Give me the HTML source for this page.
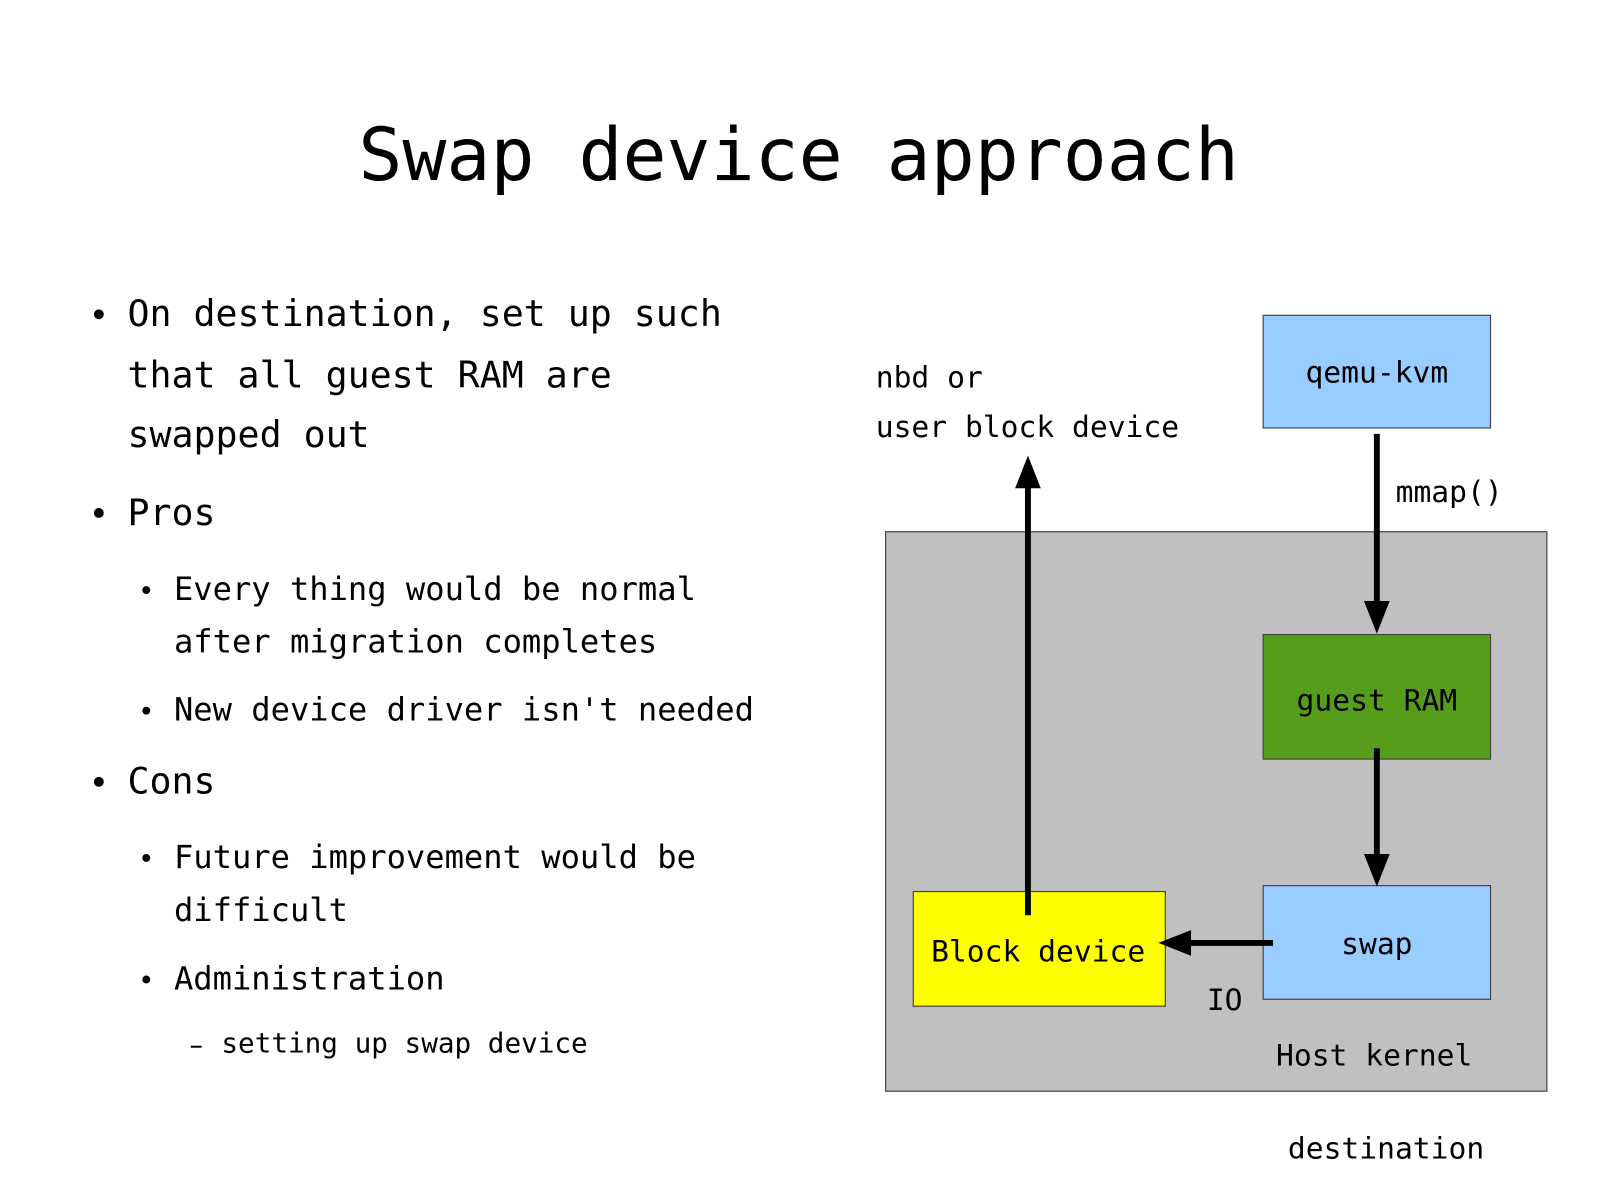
<!DOCTYPE html>
<html><head><meta charset="utf-8"><style>
html,body{margin:0;padding:0;background:#fff;}
svg{display:block;}
text{font-family:"DejaVu Sans Mono","Liberation Mono",monospace;fill:#000;}
</style></head><body>
<svg width="1599" height="1199" viewBox="0 0 1599 1199" xmlns="http://www.w3.org/2000/svg">
<g transform="scale(0.9884)">
<text x="808" y="182" font-size="74" text-anchor="middle">Swap device approach</text>

<g font-size="37">
<circle cx="100" cy="318" r="5"/>
<text x="129" y="330">On destination, set up such</text>
<text x="129" y="392">that all guest RAM are</text>
<text x="129" y="452">swapped out</text>
<circle cx="100" cy="519" r="5"/>
<text x="129" y="531">Pros</text>
<circle cx="100" cy="791" r="5"/>
<text x="129" y="803">Cons</text>
</g>
<g font-size="32.5">
<circle cx="148" cy="597" r="4"/>
<text x="176" y="607">Every thing would be normal</text>
<text x="176" y="660">after migration completes</text>
<circle cx="148" cy="719" r="4"/>
<text x="176" y="729">New device driver isn't needed</text>
<circle cx="148" cy="868" r="4"/>
<text x="176" y="878">Future improvement would be</text>
<text x="176" y="932">difficult</text>
<circle cx="148" cy="991" r="4"/>
<text x="176" y="1001">Administration</text>
</g>
<rect x="193" y="1058" width="11" height="2"/>
<text x="224" y="1065" font-size="28">setting up swap device</text>

<rect x="896" y="538" width="669" height="566" fill="#c0c0c0" stroke="#444" stroke-width="1.2"/>
<rect x="1278" y="319" width="230" height="114" fill="#99ccff" stroke="#444" stroke-width="1.2"/>
<rect x="1278" y="642" width="230" height="126" fill="#579d1c" stroke="#444" stroke-width="1.2"/>
<rect x="1278" y="896" width="230" height="115" fill="#99ccff" stroke="#444" stroke-width="1.2"/>
<rect x="924" y="902" width="255" height="116" fill="#ffff00" stroke="#444" stroke-width="1.2"/>

<g stroke="#000" stroke-width="6">
<line x1="1393" y1="439" x2="1393" y2="610"/>
<line x1="1393" y1="757" x2="1393" y2="866"/>
<line x1="1040" y1="926" x2="1040" y2="492"/>
<line x1="1288" y1="954" x2="1203" y2="954"/>
</g>
<polygon points="1380,608 1406,608 1393,641"/>
<polygon points="1380,864 1406,864 1393,897"/>
<polygon points="1027,494 1053,494 1040,461"/>
<polygon points="1205,941 1205,967 1172,954"/>

<g font-size="30">
<text x="886" y="392">nbd or</text>
<text x="886" y="442">user block device</text>
<text x="1412" y="508">mmap()</text>
<text x="1393" y="387" text-anchor="middle">qemu-kvm</text>
<text x="1393" y="719" text-anchor="middle">guest RAM</text>
<text x="1393" y="965" text-anchor="middle">swap</text>
<text x="942" y="973">Block device</text>
<text x="1221" y="1022">IO</text>
<text x="1291" y="1078">Host kernel</text>
<text x="1303" y="1172">destination</text>
</g>
</g>
</svg>
</body></html>
